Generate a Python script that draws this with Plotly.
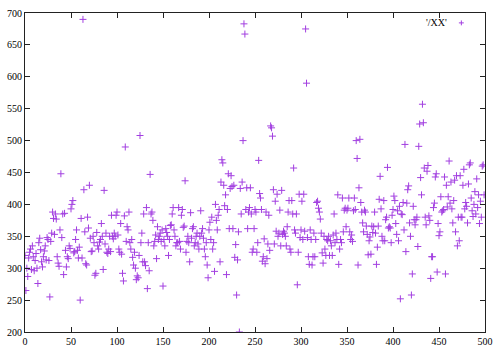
import plotly.graph_objects as go

# Values read (estimated) from the reference, one per sample index 0..499
ys = [
    320, 265, 300, 287, 316, 325, 330, 298, 335, 318,
    296, 312, 323, 300, 276, 340, 347, 329, 310, 302,
    318, 327, 335, 313, 348, 345, 312, 255, 342, 355,
    388, 378, 353, 385, 377, 318, 308, 303, 360, 448,
    348, 385, 290, 386, 328, 302, 318, 315, 335, 331,
    393, 400, 406, 324, 326, 345, 360, 328, 316, 333,
    250, 378, 316, 690, 423, 357, 307, 305, 380, 363,
    430, 347, 326, 327, 350, 340, 289, 292, 356, 335,
    330, 341, 345, 370, 350, 298, 422, 338, 355, 325,
    323, 330, 350, 326, 383, 350, 346, 355, 350, 383,
    388, 352, 330, 325, 370, 322, 292, 280, 382, 490,
    342, 365, 360, 388, 340, 330, 345, 317, 305, 325,
    300, 282, 288, 285, 320, 508, 340, 355, 310, 385,
    310, 304, 395, 268, 340, 296, 447, 385, 388, 375,
    335, 342, 352, 315, 365, 345, 350, 355, 342, 360,
    272, 345, 335, 362, 356, 350, 320, 345, 367, 368,
    385, 395, 360, 350, 335, 340, 340, 395, 342, 330,
    383, 392, 364, 366, 437, 325, 342, 350, 340, 310,
    387, 347, 362, 365, 335, 340, 350, 355, 338, 330,
    350, 390, 355, 362, 347, 330, 318, 340, 305, 285,
    360, 372, 345, 380, 330, 340, 295, 400, 375, 360,
    383, 392, 310, 435, 470, 465, 430, 398, 415, 290,
    392, 448, 362, 425, 445, 428, 362, 430, 317, 337,
    258, 313, 357, 200, 425, 385, 435, 500, 683, 667,
    392, 426, 362, 388, 395, 426, 385, 325, 330, 362,
    392, 388, 325, 340, 469, 417, 410, 392, 311, 318,
    346, 307, 388, 315, 338, 383, 328, 523, 520, 507,
    423, 338, 405, 358, 416, 350, 355, 391, 335, 422,
    353, 358, 355, 350, 335, 365, 388, 406, 330, 325,
    406, 385, 457, 360, 355, 385, 274, 325, 416, 348,
    360, 405, 345, 416, 358, 675, 590, 348, 318, 306,
    360, 345, 305, 318, 355, 318, 345, 403, 405, 394,
    388, 377, 355, 324, 308, 350, 330, 320, 345, 343,
    350, 320, 343, 335, 320, 352, 385, 340, 355, 345,
    415, 306, 330, 345, 340, 410, 357, 391, 394, 365,
    391, 394, 410, 357, 345, 352, 342, 390, 410, 392,
    500, 472, 305, 426, 502, 403, 388, 371, 357, 391,
    388, 366, 353, 321, 343, 349, 322, 366, 356, 365,
    388, 355, 306, 333, 366, 408, 444, 393, 350, 343,
    406, 343, 376, 380, 458, 363, 365, 363, 340, 383,
    392, 413, 406, 370, 353, 390, 343, 397, 252, 385,
    384, 403, 360, 494, 326, 402, 423, 429, 371, 350,
    258, 291, 397, 376, 368, 376, 380, 334, 491, 526,
    442, 415, 557, 528, 457, 380, 368, 452, 461, 382,
    375, 284, 318, 318, 395, 402, 443, 448, 294, 370,
    351, 357, 412, 388, 390, 392, 443, 291, 430, 396,
    412, 468, 402, 435, 393, 371, 406, 438, 357, 445,
    335, 380, 343, 445, 380, 380, 430, 455, 393, 403,
    397, 371, 432, 462, 465, 410, 390, 381, 400, 420,
    385, 440, 395, 415, 370, 405, 380, 460, 462, 415,
]
xs = list(range(len(ys)))

x_ticks = [0, 50, 100, 150, 200, 250, 300, 350, 400, 450, 500]
y_ticks = [200, 250, 300, 350, 400, 450, 500, 550, 600, 650, 700]
series_name = "'/XX'"

PURPLE = "#a23fe0"
FONT = "Liberation Serif"

fig = go.Figure()
fig.add_trace(go.Scatter(
    x=xs, y=ys, mode="markers", name=series_name, showlegend=False,
    marker=dict(symbol="cross-thin", size=5, color=PURPLE,
                line=dict(color=PURPLE, width=1)),
))

axis_common = dict(
    showgrid=False, zeroline=False, showline=True, linecolor="#222222",
    linewidth=1, mirror="ticks", ticks="inside", ticklen=5, tickwidth=1,
    tickcolor="#222222", tickfont=dict(family=FONT, size=10, color="black"),
)
fig.update_xaxes(range=[0, 500], tickvals=x_ticks, **axis_common)
fig.update_yaxes(range=[200, 700], tickvals=y_ticks, **axis_common)

# gnuplot-style key: text, then the point sample to its right
fig.add_annotation(
    x=0.922, y=0.969, xref="paper", yref="paper", text=series_name,
    showarrow=False, xanchor="right", yanchor="middle",
    font=dict(family=FONT, size=10, color="black"),
)
kx, ky, dx, dy = 0.9486, 0.969, 0.0054, 0.0077
fig.add_shape(type="line", xref="paper", yref="paper",
              x0=kx - dx, x1=kx + dx, y0=ky, y1=ky,
              line=dict(color=PURPLE, width=1))
fig.add_shape(type="line", xref="paper", yref="paper",
              x0=kx, x1=kx, y0=ky - dy, y1=ky + dy,
              line=dict(color=PURPLE, width=1))

fig.update_layout(
    width=500, height=354, paper_bgcolor="white", plot_bgcolor="white",
    margin=dict(l=22, r=11, t=7, b=22),
    font=dict(family=FONT, size=10, color="black"),
)
fig.write_html("out.html")
